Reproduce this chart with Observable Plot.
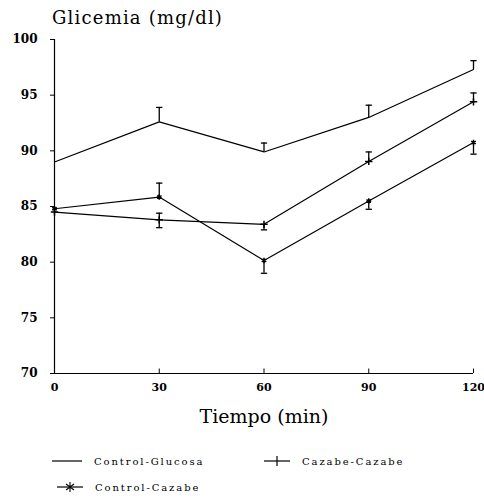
<!DOCTYPE html>
<html><head><meta charset="utf-8">
<script src="https://cdn.jsdelivr.net/npm/d3@7"></script>
<script src="https://cdn.jsdelivr.net/npm/@observablehq/plot@0.6"></script>
<style>
body{margin:0;background:#fff;font-family:"DejaVu Serif",serif;color:#000}
#wrap{position:relative;width:484px;height:500px}
#title{position:absolute;left:52px;top:7px;font-family:"DejaVu Serif",serif;font-size:18px;letter-spacing:1.2px}
#chart{position:absolute;left:0;top:30px}
.leg{position:absolute;font-family:"DejaVu Serif",serif;font-size:10px;letter-spacing:1.9px;display:flex;align-items:center}
.leg svg{margin-right:10px}
</style></head>
<body><div id="wrap">
<div id="title">Glicemia (mg/dl)</div>
<div id="chart"></div>
<div class="leg" style="left:52px;top:455px"><svg width="32" height="12"><line x1="0" y1="6" x2="30" y2="6" stroke="#000" stroke-width="1.2"/></svg>Control-Glucosa</div>
<div class="leg" style="left:264px;top:455px"><svg width="28" height="12"><line x1="0" y1="6" x2="26" y2="6" stroke="#000" stroke-width="1.2"/><line x1="13" y1="1" x2="13" y2="11" stroke="#000" stroke-width="1.2"/></svg>Cazabe-Cazabe</div>
<div class="leg" style="left:57px;top:481px"><svg width="28" height="12"><line x1="0" y1="6" x2="26" y2="6" stroke="#000" stroke-width="1.2"/><path d="M13,1V11M9,3L17,9M17,3L9,9" stroke="#000" stroke-width="1.1"/></svg>Control-Cazabe</div>
</div>
<script>
const times = [0, 30, 60, 90, 120];
const seriesNames = ["Control-Glucosa", "Cazabe-Cazabe", "Control-Cazabe"];
const glucosa = [89.0, 92.6, 89.9, 93.0, 97.3];
const glucosaLo = [89.0, 92.6, 89.9, 93.0, 97.3];
const glucosaHi = [89.0, 93.9, 90.7, 94.1, 98.1];
const cazabe = [84.5, 83.8, 83.4, 89.05, 94.4];
const cazabeLo = [84.5, 83.1, 82.9, 89.05, 94.4];
const cazabeHi = [84.5, 84.4, 83.4, 89.9, 95.2];
const ctrlCazabe = [84.8, 85.85, 80.15, 85.5, 90.75];
const ctrlCazabeLo = [84.8, 85.85, 79.0, 84.75, 89.7];
const ctrlCazabeHi = [84.8, 87.1, 80.15, 85.5, 90.75];
const xTicks = [0, 30, 60, 90, 120];
const yTicks = [70, 75, 80, 85, 90, 95, 100];

const vals = [glucosa, cazabe, ctrlCazabe];
const los = [glucosaLo, cazabeLo, ctrlCazabeLo];
const his = [glucosaHi, cazabeHi, ctrlCazabeHi];
const rows = [];
seriesNames.forEach((s, i) => times.forEach((t, j) => rows.push({s, t, v: vals[i][j], lo: los[i][j], hi: his[i][j]})));
const errs = rows.filter(d => d.lo < d.hi);
const caps = [];
errs.forEach(d => {
  if (d.hi > d.v) caps.push({t: d.t, y: d.hi});
  if (d.lo < d.v) caps.push({t: d.t, y: d.lo});
});
const capW = 0.9;

const plot = Plot.plot({
  width: 484, height: 410,
  marginLeft: 54, marginRight: 11, marginTop: 9, marginBottom: 67,
  style: {fontFamily: "DejaVu Serif, serif", fontSize: "12px", background: "#fff", color: "#000"},
  x: {domain: [0, 120]},
  y: {domain: [70, 100]},
  marks: [
    Plot.axisY({ticks: yTicks, tickSize: 4, tickPadding: 13, label: null, fontSize: 12, fontWeight: "bold"}),
    Plot.axisX({ticks: xTicks, tickSize: 0, tickPadding: 10, label: null, fontSize: 11, fontWeight: "bold"}),
    Plot.ruleX([0], {y1: 70, y2: 100, stroke: "#000", strokeWidth: 1.2}),
    Plot.ruleY([70], {stroke: "#000", strokeWidth: 1.2}),
    Plot.ruleX(xTicks.slice(1), {y1: 70, y2: 70.4, stroke: "#000"}),
    Plot.line(rows, {x: "t", y: "v", z: "s", stroke: "#000", strokeWidth: 1.2}),
    Plot.ruleX(errs, {x: "t", y1: "lo", y2: "hi", stroke: "#000", strokeWidth: 1.3}),
    Plot.link(caps, {x1: d => d.t - capW, x2: d => d.t + capW, y1: "y", y2: "y", stroke: "#000", strokeWidth: 1.3}),
    Plot.dot(rows.filter(d => d.s === "Cazabe-Cazabe"), {x: "t", y: "v", symbol: "plus", r: 2.5, stroke: "#000"}),
    Plot.dot(rows.filter(d => d.s === "Control-Cazabe"), {x: "t", y: "v", symbol: "asterisk", r: 2.5, stroke: "#000"}),
    Plot.text(["Tiempo (min)"], {frameAnchor: "bottom", dy: 49, fontSize: 19, letterSpacing: 1.5, fontFamily: "DejaVu Serif, serif", fill: "#000"})
  ]
});
document.getElementById("chart").appendChild(plot);
</script>
</body></html>
